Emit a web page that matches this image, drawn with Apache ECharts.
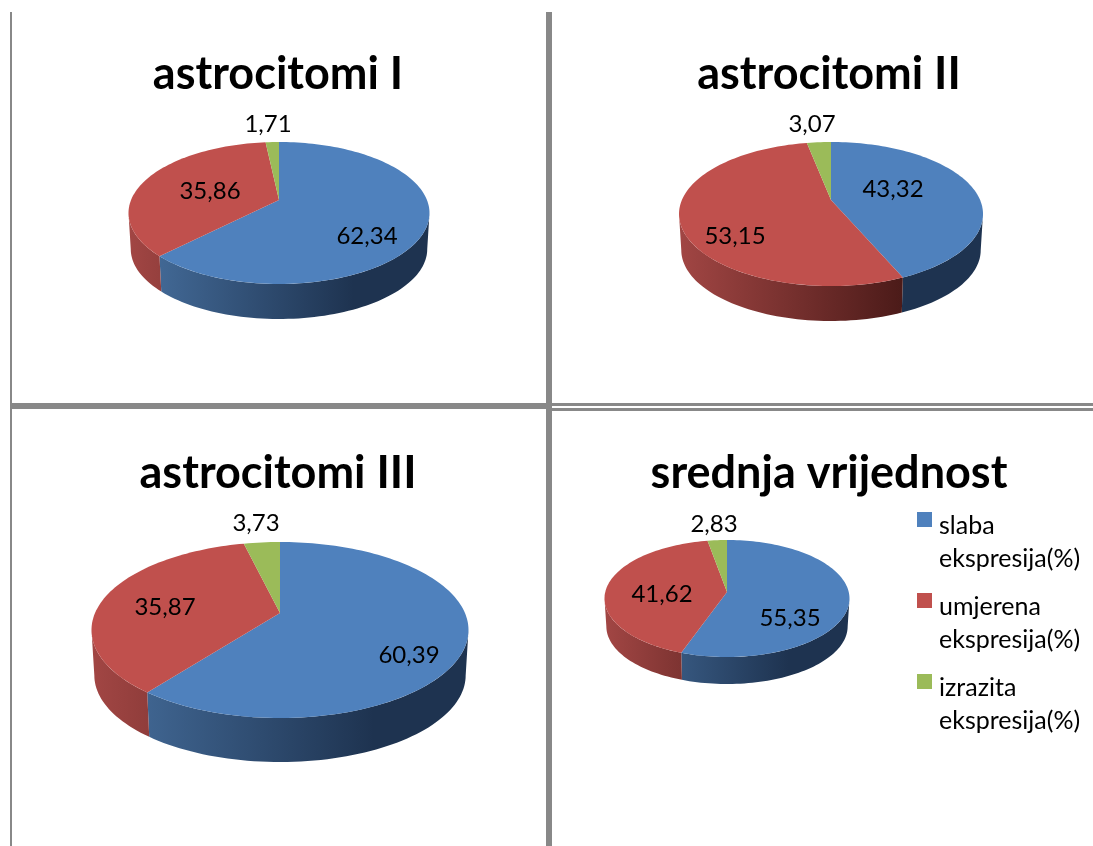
<!DOCTYPE html>
<html>
<head>
<meta charset="utf-8">
<style>
  html, body { margin: 0; padding: 0; background: #fff; }
  #main { width: 1093px; height: 846px; }
</style>
<script src="https://cdn.jsdelivr.net/npm/echarts@6/dist/echarts.min.js"></script>
</head>
<body>
<div id="main"></div>
<script>
// data
const pieTitles = ['astrocitomi I', 'astrocitomi II', 'astrocitomi III', 'srednja vrijednost'];
const categories = ['slaba ekspresija(%)', 'umjerena ekspresija(%)', 'izrazita ekspresija(%)'];
const slabaValues = [62.34, 43.32, 60.39, 55.35];
const umjerenaValues = [35.86, 53.15, 35.87, 41.62];
const izrazitaValues = [1.71, 3.07, 3.73, 2.83];
const seriesValues = [slabaValues, umjerenaValues, izrazitaValues];

// layout of the four tilted pies: apex, extent of the top face, bottom of the rim
const pieBoxes = [
  { ax: 279, ay: 200, top: 142, bottom: 284, left: 128, right: 429, rim: 319 },
  { ax: 831, ay: 200, top: 142, bottom: 286, left: 678, right: 982, rim: 321 },
  { ax: 280, ay: 613, top: 542, bottom: 718, left: 91, right: 468, rim: 762 },
  { ax: 727, ay: 592, top: 540, bottom: 657, left: 605, right: 850, rim: 684 }
];
// label offset from the apex, per pie and per category
const labelOffsets = [
  [[88, 36], [-69, -9], [-11, -76]],
  [[62, -11], [-96, 36], [-19, -76]],
  [[129, 42], [-115, -6], [-24, -90]],
  [[63, 26], [-65, 2], [-13, -68]]
];
const titleBoxes = [[278, 52], [829, 52], [278, 451], [829, 451]];

const topColors = ['#4f81bd', '#c0504d', '#9bbb59'];
const wallColors = [['#47709f', '#1e3350'], ['#a24644', '#4a1a18'], ['#7f9a45', '#4f6125']];
const gridColor = '#888888';
const fontName = 'Lato, "Open Sans", sans-serif';

function getProjection(b) {
  var up = b.ay - b.top;
  var down = b.bottom - b.ay;
  var k = (down - up) / (down + up);
  var bigB = up * (1 + k);
  var bigA = (b.right - b.left) / 2 * Math.sqrt(1 - k * k);
  var shrink = 0.985;
  var drop = b.rim - (b.ay + down * shrink);
  return {
    k: k,
    point: function (theta, lower) {
      var w = 1 + k * Math.cos(theta);
      var sx = bigA * Math.sin(theta) / w;
      var sy = bigB * Math.cos(theta) / w;
      if (lower) {
        return [b.ax + sx * shrink, b.ay - sy * shrink + drop];
      }
      return [b.ax + sx, b.ay - sy];
    }
  };
}

// start and end angle of one slice, clockwise from the top
function getAngles(pieIdx, catIdx) {
  var total = 0, before = 0;
  for (var i = 0; i < seriesValues.length; i++) {
    total += seriesValues[i][pieIdx];
    if (i < catIdx) before += seriesValues[i][pieIdx];
  }
  return [before / total * Math.PI * 2, (before + seriesValues[catIdx][pieIdx]) / total * Math.PI * 2];
}

function arcPoints(proj, a0, a1, lower) {
  var pts = [];
  var n = Math.max(2, Math.ceil((a1 - a0) / 0.03));
  for (var i = 0; i <= n; i++) {
    pts.push(proj.point(a0 + (a1 - a0) * i / n, lower));
  }
  return pts;
}

function renderWall(catIdx) {
  return function (params, api) {
    var pieIdx = api.value(0);
    var b = pieBoxes[pieIdx];
    var proj = getProjection(b);
    var angles = getAngles(pieIdx, catIdx);
    var from = Math.acos(-proj.k);
    var to = Math.PI * 2 - from;
    var a0 = Math.max(angles[0], from);
    var a1 = Math.min(angles[1], to);
    if (a1 <= a0) return null;
    var pts = arcPoints(proj, a0, a1, false).concat(arcPoints(proj, a0, a1, true).reverse());
    var x1 = b.left + (b.right - b.left) * 0.75;
    return {
      type: 'polygon',
      shape: { points: pts },
      style: {
        fill: new echarts.graphic.LinearGradient(b.left, 0, x1, 0, [
          { offset: 0, color: wallColors[catIdx][0] },
          { offset: 1, color: wallColors[catIdx][1] }
        ], true)
      }
    };
  };
}

function renderTop(catIdx) {
  return function (params, api) {
    var pieIdx = api.value(0);
    var b = pieBoxes[pieIdx];
    var proj = getProjection(b);
    var angles = getAngles(pieIdx, catIdx);
    var pts = [[b.ax, b.ay]].concat(arcPoints(proj, angles[0], angles[1], false));
    var off = labelOffsets[pieIdx][catIdx];
    return {
      type: 'group',
      children: [
        { type: 'polygon', shape: { points: pts }, style: { fill: topColors[catIdx] } },
        {
          type: 'text',
          z2: 10,
          style: {
            text: String(api.value(1)).replace('.', ','),
            x: b.ax + off[0],
            y: b.ay + off[1],
            align: 'center',
            verticalAlign: 'middle',
            fill: '#000',
            font: '24px ' + fontName
          }
        }
      ]
    };
  };
}

var series = [];
categories.forEach(function (name, catIdx) {
  var rows = seriesValues[catIdx].map(function (v, i) { return [i, v]; });
  series.push({
    type: 'custom', name: name, coordinateSystem: 'none', z: 1, silent: true,
    itemStyle: { color: topColors[catIdx] },
    renderItem: renderWall(catIdx), data: rows
  });
  series.push({
    type: 'custom', name: name, coordinateSystem: 'none', z: 2, silent: true,
    itemStyle: { color: topColors[catIdx] },
    renderItem: renderTop(catIdx), data: rows
  });
});

// table borders behind the charts
function borderRect(x, y, w, h) {
  return { type: 'rect', shape: { x: x, y: y, width: w, height: h }, style: { fill: gridColor }, silent: true };
}

var option = {
  backgroundColor: '#fff',
  animation: false,
  tooltip: { show: false },
  title: pieTitles.map(function (t, i) {
    return {
      text: t,
      left: titleBoxes[i][0],
      top: titleBoxes[i][1],
      textAlign: 'center',
      padding: 0,
      textStyle: { fontFamily: fontName, fontWeight: 'bold', fontSize: 45, color: '#000' }
    };
  }),
  legend: {
    orient: 'vertical',
    left: 917,
    top: 464,
    padding: 0,
    itemWidth: 15,
    itemHeight: 15,
    itemGap: -30,
    icon: 'rect',
    selectedMode: false,
    data: categories,
    // the blank first line keeps the swatch level with the first text line
    formatter: function (name) {
      var parts = name.split(' ');
      return '{g|\u00a0}\n{t|' + parts[0] + '}\n{t|' + parts[1] + '}';
    },
    textStyle: {
      fontFamily: fontName,
      fontSize: 25,
      color: '#000',
      padding: [0, 0, 0, 2],
      rich: {
        g: { height: 45, lineHeight: 45, fontSize: 25 },
        t: { height: 33, lineHeight: 33, fontSize: 25, fontFamily: fontName, color: '#000' }
      }
    }
  },
  graphic: [
    borderRect(10, 12, 2, 834),
    borderRect(546, 12, 6, 834),
    borderRect(10, 403, 538, 6),
    borderRect(540, 403, 553, 3),
    borderRect(552, 408, 541, 3)
  ],
  series: series
};

var myChart = echarts.init(document.getElementById('main'), null, { renderer: 'canvas' });
myChart.setOption(option);
</script>
</body>
</html>
